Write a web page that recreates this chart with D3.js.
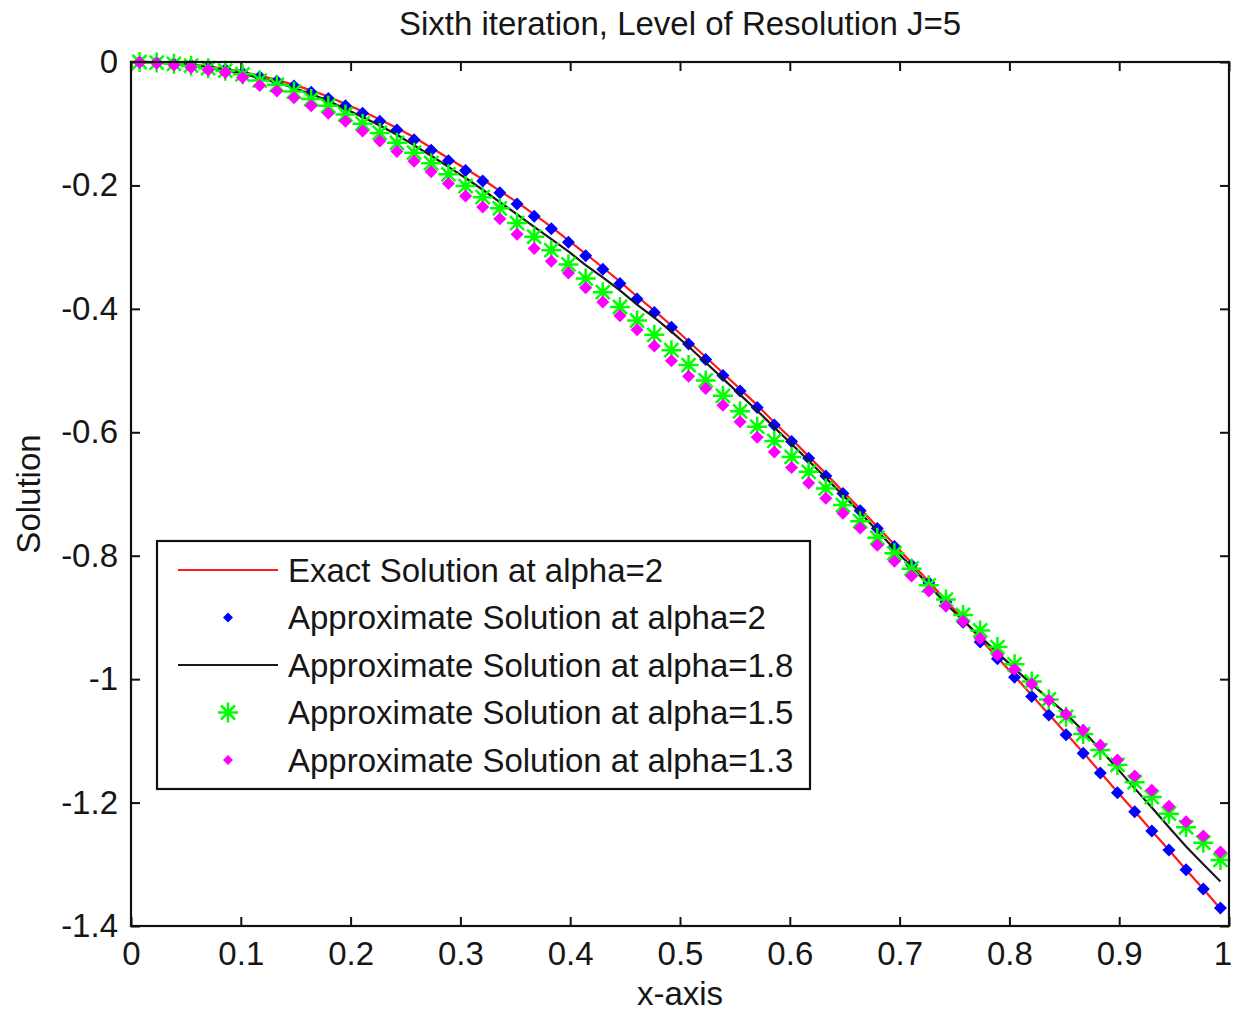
<!DOCTYPE html>
<html lang="en">
<head>
  <meta charset="UTF-8">
  <title>Sixth iteration, Level of Resolution J=5</title>
  <script src="https://d3js.org/d3.v7.min.js"></script>
  <style>
    body { margin: 0; background: #fff; }
    svg text {
      font-family: "Liberation Sans", Arial, sans-serif;
      font-size: 33px;
      fill: #161616;
    }
    .axis line { stroke: #111; stroke-width: 2px; }
    .axis path { display: none; }
  </style>
</head>
<body>
<svg id="chart" width="1237" height="1012"></svg>
<script>
  // collocation points (64 of them, J=5)
  const xPoints = [0.0078, 0.0234, 0.0391, 0.0547, 0.0703, 0.0859, 0.1016, 0.1172, 0.1328, 0.1484,
    0.1641, 0.1797, 0.1953, 0.2109, 0.2266, 0.2422, 0.2578, 0.2734, 0.2891, 0.3047,
    0.3203, 0.3359, 0.3516, 0.3672, 0.3828, 0.3984, 0.4141, 0.4297, 0.4453, 0.4609,
    0.4766, 0.4922, 0.5078, 0.5234, 0.5391, 0.5547, 0.5703, 0.5859, 0.6016, 0.6172,
    0.6328, 0.6484, 0.6641, 0.6797, 0.6953, 0.7109, 0.7266, 0.7422, 0.7578, 0.7734,
    0.7891, 0.8047, 0.8203, 0.8359, 0.8516, 0.8672, 0.8828, 0.8984, 0.9141, 0.9297,
    0.9453, 0.9609, 0.9766, 0.9922];

  const exactA2 = [0, -0.001, -0.002, -0.004, -0.007, -0.011, -0.016, -0.022, -0.029, -0.037,
    -0.046, -0.056, -0.068, -0.080, -0.093, -0.107, -0.122, -0.139, -0.156, -0.173,
    -0.190, -0.209, -0.227, -0.247, -0.267, -0.289, -0.311, -0.333, -0.356, -0.380,
    -0.403, -0.427, -0.453, -0.478, -0.504, -0.530, -0.556, -0.584, -0.611, -0.639,
    -0.667, -0.696, -0.724, -0.753, -0.782, -0.812, -0.842, -0.872, -0.903, -0.935,
    -0.965, -0.995, -1.026, -1.057, -1.088, -1.119, -1.151, -1.183, -1.214, -1.246,
    -1.277, -1.309, -1.340, -1.372];

  const approxA2 = [0, -0.001, -0.003, -0.005, -0.008, -0.012, -0.018, -0.024, -0.031, -0.039,
    -0.049, -0.059, -0.071, -0.083, -0.096, -0.110, -0.126, -0.143, -0.160, -0.176,
    -0.193, -0.212, -0.230, -0.250, -0.270, -0.292, -0.314, -0.336, -0.359, -0.384,
    -0.406, -0.430, -0.457, -0.482, -0.508, -0.533, -0.560, -0.588, -0.615, -0.642,
    -0.671, -0.699, -0.727, -0.756, -0.785, -0.815, -0.844, -0.875, -0.908, -0.940,
    -0.967, -0.997, -1.028, -1.058, -1.090, -1.120, -1.152, -1.184, -1.215, -1.246,
    -1.277, -1.309, -1.340, -1.371];

  const approxA18 = [0, -0.001, -0.003, -0.005, -0.009, -0.013, -0.019, -0.026, -0.033, -0.042,
    -0.052, -0.063, -0.076, -0.089, -0.103, -0.118, -0.135, -0.152, -0.170, -0.188,
    -0.207, -0.227, -0.247, -0.267, -0.287, -0.307, -0.329, -0.349, -0.370, -0.393,
    -0.414, -0.437, -0.461, -0.487, -0.513, -0.539, -0.565, -0.592, -0.619, -0.646,
    -0.674, -0.702, -0.730, -0.760, -0.789, -0.818, -0.848, -0.878, -0.905, -0.931,
    -0.957, -0.983, -1.008, -1.032, -1.056, -1.084, -1.114, -1.145, -1.177, -1.208,
    -1.240, -1.271, -1.300, -1.328];

  const approxA15 = [0, -0.001, -0.003, -0.006, -0.010, -0.014, -0.020, -0.030, -0.037, -0.048,
    -0.060, -0.071, -0.085, -0.100, -0.115, -0.131, -0.147, -0.164, -0.182, -0.201,
    -0.219, -0.237, -0.261, -0.283, -0.305, -0.328, -0.351, -0.373, -0.397, -0.419,
    -0.442, -0.467, -0.491, -0.516, -0.541, -0.566, -0.591, -0.614, -0.640, -0.664,
    -0.691, -0.718, -0.744, -0.771, -0.796, -0.821, -0.848, -0.871, -0.896, -0.921,
    -0.948, -0.976, -1.004, -1.033, -1.061, -1.089, -1.115, -1.139, -1.167, -1.191,
    -1.218, -1.240, -1.265, -1.293];

  const approxA13 = [-0.001, -0.002, -0.005, -0.009, -0.013, -0.017, -0.025, -0.038, -0.047, -0.058,
    -0.071, -0.083, -0.096, -0.112, -0.128, -0.145, -0.161, -0.178, -0.197, -0.217,
    -0.235, -0.254, -0.279, -0.302, -0.323, -0.342, -0.366, -0.389, -0.411, -0.434,
    -0.460, -0.484, -0.509, -0.529, -0.556, -0.583, -0.608, -0.632, -0.657, -0.682,
    -0.707, -0.731, -0.755, -0.783, -0.809, -0.833, -0.857, -0.882, -0.906, -0.934,
    -0.961, -0.984, -1.008, -1.034, -1.057, -1.083, -1.107, -1.131, -1.157, -1.180,
    -1.206, -1.231, -1.254, -1.280];

  const xTicks = [0, 0.1, 0.2, 0.3, 0.4, 0.5, 0.6, 0.7, 0.8, 0.9, 1];
  const yTicks = [0, -0.2, -0.4, -0.6, -0.8, -1, -1.2, -1.4];

  const legendLabels = [
    "Exact Solution at alpha=2",
    "Approximate Solution at alpha=2",
    "Approximate Solution at alpha=1.8",
    "Approximate Solution at alpha=1.5",
    "Approximate Solution at alpha=1.3"
  ];

  const plotLeft = 131, plotRight = 1229, plotTop = 62, plotBottom = 926;

  const svg = d3.select("#chart");

  const x = d3.scaleLinear().domain([0, 1]).range([plotLeft, plotRight]);
  const y = d3.scaleLinear().domain([-1.4, 0]).range([plotBottom, plotTop]);

  // ticks point inwards on all four sides, like matlab
  svg.append("g")
     .attr("class", "axis")
     .attr("transform", "translate(0," + plotBottom + ")")
     .call(d3.axisBottom(x).tickValues(xTicks).tickSizeInner(-9).tickSizeOuter(0)
        .tickPadding(16).tickFormat(d3.format("")));

  svg.append("g")
     .attr("class", "axis")
     .attr("transform", "translate(0," + plotTop + ")")
     .call(d3.axisTop(x).tickValues(xTicks).tickSizeInner(-9).tickSizeOuter(0).tickFormat(""));

  svg.append("g")
     .attr("class", "axis")
     .attr("transform", "translate(" + plotLeft + ",0)")
     .call(d3.axisLeft(y).tickValues(yTicks).tickSizeInner(-9).tickSizeOuter(0)
        .tickPadding(13).tickFormat(d => d3.format("")(d).replace("−", "-")));

  svg.append("g")
     .attr("class", "axis")
     .attr("transform", "translate(" + plotRight + ",0)")
     .call(d3.axisRight(y).tickValues(yTicks).tickSizeInner(-9).tickSizeOuter(0).tickFormat(""));

  svg.selectAll(".axis text").style("font-size", "33px").style("fill", "#161616")
     .style("font-family", "'Liberation Sans', Arial, sans-serif");

  // the "1" sits right on the page edge, nudge it in a bit
  svg.selectAll(".axis .tick text").filter(d => d === 1).attr("dx", "-0.2em");

  // data
  const exact = xPoints.map((v, i) => [v, exactA2[i]]);
  const a2 = xPoints.map((v, i) => [v, approxA2[i]]);
  const a18 = xPoints.map((v, i) => [v, approxA18[i]]);
  const a15 = xPoints.map((v, i) => [v, approxA15[i]]);
  const a13 = xPoints.map((v, i) => [v, approxA13[i]]);

  const line = d3.line().x(d => x(d[0])).y(d => y(d[1]));

  // matlab 'd' marker is a square turned 45 degrees
  const diamond = r => "M0," + (-r) + "L" + r + ",0L0," + r + "L" + (-r) + ",0Z";
  const star = "M-10,0L10,0M0,-10L0,10M-7,-7L7,7M-7,7L7,-7";

  svg.append("path")
     .attr("d", line(exact))
     .attr("fill", "none")
     .attr("stroke", "#ff1a1a")
     .attr("stroke-width", 2.2);

  svg.append("g").selectAll("path")
     .data(a2)
     .join("path")
     .attr("transform", d => "translate(" + x(d[0]) + "," + y(d[1]) + ")")
     .attr("d", diamond(6.5))
     .attr("fill", "#0000ff");

  svg.append("path")
     .attr("d", line(a18))
     .attr("fill", "none")
     .attr("stroke", "#1a1a1a")
     .attr("stroke-width", 2.2);

  svg.append("g").selectAll("path")
     .data(a15)
     .join("path")
     .attr("transform", d => "translate(" + x(d[0]) + "," + y(d[1]) + ")")
     .attr("d", star)
     .attr("fill", "none")
     .attr("stroke", "#00ff00")
     .attr("stroke-width", 2.5);

  svg.append("g").selectAll("path")
     .data(a13)
     .join("path")
     .attr("transform", d => "translate(" + x(d[0]) + "," + y(d[1]) + ")")
     .attr("d", diamond(6.5))
     .attr("fill", "#ff00ff");

  // axes box on top
  svg.append("rect")
     .attr("x", plotLeft)
     .attr("y", plotTop)
     .attr("width", plotRight - plotLeft)
     .attr("height", plotBottom - plotTop)
     .attr("fill", "none")
     .attr("stroke", "#111")
     .attr("stroke-width", 2.2);

  // title and axis labels
  svg.append("text")
     .attr("x", (plotLeft + plotRight) / 2)
     .attr("y", 35)
     .style("text-anchor", "middle")
     .text("Sixth iteration, Level of Resolution J=5");

  svg.append("text")
     .attr("x", (plotLeft + plotRight) / 2)
     .attr("y", 1005)
     .style("text-anchor", "middle")
     .text("x-axis");

  svg.append("text")
     .attr("transform", "translate(40," + ((plotTop + plotBottom) / 2) + ") rotate(-90)")
     .style("text-anchor", "middle")
     .text("Solution");

  // legend
  const lg = svg.append("g").attr("transform", "translate(157,541)");
  lg.append("rect")
     .attr("width", 653)
     .attr("height", 248)
     .attr("fill", "#fff")
     .attr("stroke", "#111")
     .attr("stroke-width", 2.2);

  const rowY = d3.scalePoint().domain(d3.range(legendLabels.length)).range([29, 219]);

  legendLabels.forEach((lab, i) => {
    const yy = rowY(i);
    if (i === 0 || i === 2) {
      lg.append("line")
         .attr("x1", 21).attr("x2", 121)
         .attr("y1", yy).attr("y2", yy)
         .attr("stroke", i === 0 ? "#ff1a1a" : "#1a1a1a")
         .attr("stroke-width", 2.2);
    } else if (i === 3) {
      lg.append("path")
         .attr("transform", "translate(71," + yy + ")")
         .attr("d", star)
         .attr("fill", "none")
         .attr("stroke", "#00ff00")
         .attr("stroke-width", 2.5);
    } else {
      lg.append("path")
         .attr("transform", "translate(71," + yy + ")")
         .attr("d", diamond(5))
         .attr("fill", i === 1 ? "#0000ff" : "#ff00ff");
    }
    lg.append("text")
       .attr("x", 131)
       .attr("y", yy)
       .attr("dy", "0.36em")
       .text(lab);
  });
</script>
</body>
</html>
